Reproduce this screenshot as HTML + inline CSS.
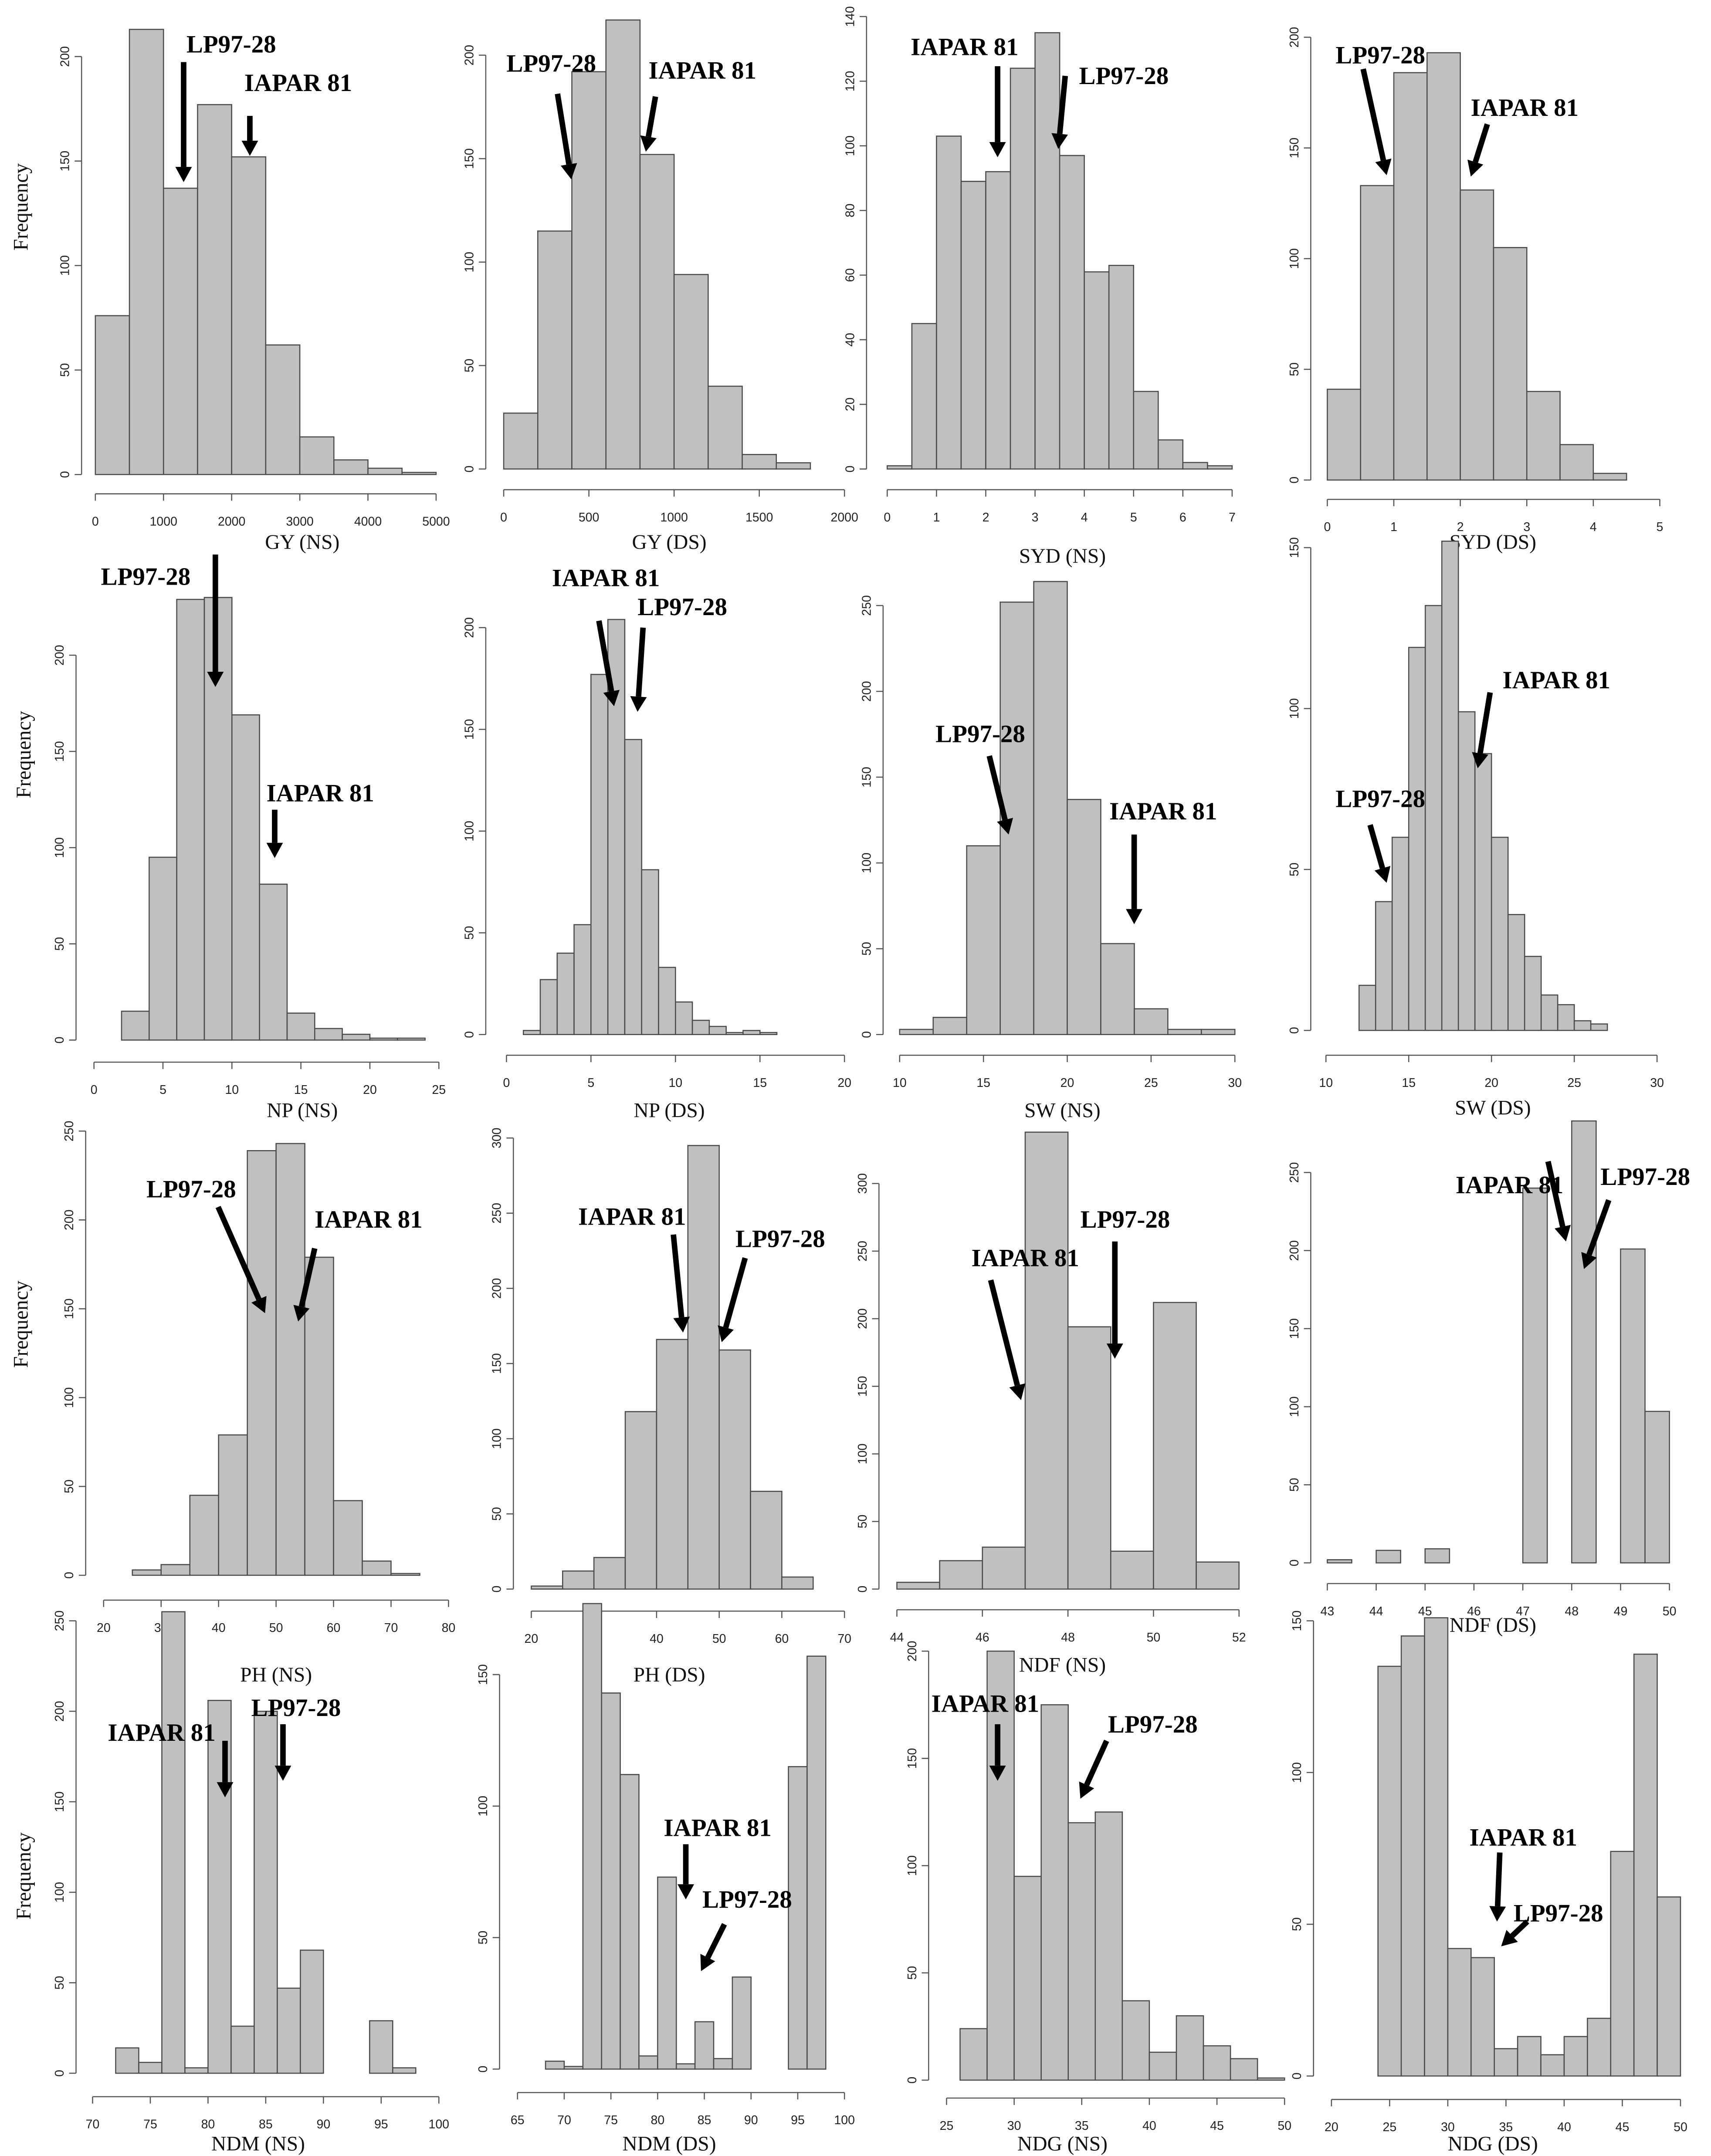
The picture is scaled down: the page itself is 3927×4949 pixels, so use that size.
<!DOCTYPE html>
<html><head><meta charset="utf-8">
<style>
html,body{margin:0;padding:0;background:#fff;}
svg{display:block;}
.tk{font-family:"Liberation Sans",sans-serif;font-size:9px;fill:#222;}
.ttl{font-family:"Liberation Serif",serif;font-size:15px;fill:#111;}
.lbl{font-family:"Liberation Serif",serif;font-size:18px;font-weight:bold;fill:#000;}
</style></head>
<body>
<svg id="fig" xmlns="http://www.w3.org/2000/svg" width="3927" height="4949" viewBox="0 0 1240 1563"></svg>
<script>
// ---- data (counts per bin) ----
const gyNsCounts=[76,213,137,177,152,62,18,7,3,1];
const gyDsCounts=[27,115,192,217,152,94,40,7,3];
const sydNsCounts=[1,45,103,89,92,124,135,97,61,63,24,9,2,1];
const sydDsCounts=[41,133,184,193,131,105,40,16,3];
const npNsCounts=[15,95,229,230,169,81,14,6,3,1,1];
const npDsCounts=[2,27,40,54,177,204,145,81,33,16,7,4,1,2,1];
const swNsCounts=[3,10,110,252,264,137,53,15,3,3];
const swDsCounts=[14,40,60,119,132,152,99,86,60,36,23,11,8,3,2];
const phNsCounts=[3,6,45,79,239,243,179,42,8,1];
const phDsCounts=[2,12,21,118,166,295,159,65,8];
const ndfNsCounts=[5,21,31,338,194,28,212,20];
const ndfDsCounts=[2,0,8,0,9,0,0,0,240,0,283,0,201,97];
const ndmNsCounts=[14,6,255,3,206,26,200,47,68,0,0,29,3];
const ndmDsCounts=[3,1,177,143,112,5,73,2,18,4,35,0,0,115,157];
const ndgNsCounts=[24,200,95,175,120,125,37,13,30,16,10,1];
const ndgDsCounts=[135,145,151,42,39,9,13,7,13,19,74,139,59];
// bin starts and widths
const binStarts=[0,0,0,0,2,1,10,12,25,20,44,43,72,68,26,24];
const binWidths=[500,200,0.5,0.5,2,1,2,1,5,5,1,0.5,2,2,2,2];
// axis tick labels
const xTickSets=[[0,1000,2000,3000,4000,5000],[0,500,1000,1500,2000],[0,1,2,3,4,5,6,7],[0,1,2,3,4,5],
[0,5,10,15,20,25],[0,5,10,15,20],[10,15,20,25,30],[10,15,20,25,30],
[20,30,40,50,60,70,80],[20,30,40,50,60,70],[44,46,48,50,52],[43,44,45,46,47,48,49,50],
[70,75,80,85,90,95,100],[65,70,75,80,85,90,95,100],[25,30,35,40,45,50],[20,25,30,35,40,45,50]];
const yTickSets=[[0,50,100,150,200],[0,50,100,150,200],[0,20,40,60,80,100,120,140],[0,50,100,150,200],
[0,50,100,150,200],[0,50,100,150,200],[0,50,100,150,200,250],[0,50,100,150],
[0,50,100,150,200,250],[0,50,100,150,200,250,300],[0,50,100,150,200,250,300],[0,50,100,150,200,250],
[0,50,100,150,200,250],[0,50,100,150],[0,50,100,150,200],[0,50,100,150]];
const titles=["GY (NS)","GY (DS)","SYD (NS)","SYD (DS)","NP (NS)","NP (DS)","SW (NS)","SW (DS)","PH (NS)","PH (DS)","NDF (NS)","NDF (DS)","NDM (NS)","NDM (DS)","NDG (NS)","NDG (DS)"];
const countSets=[gyNsCounts,gyDsCounts,sydNsCounts,sydDsCounts,npNsCounts,npDsCounts,swNsCounts,swDsCounts,phNsCounts,phDsCounts,ndfNsCounts,ndfDsCounts,ndmNsCounts,ndmDsCounts,ndgNsCounts,ndgDsCounts];

// ---- layout (pixel geometry, display units) ----
const geo=[
[69,316,344,41,59,358,219,398],[365,612,340,40,352,355,485,398],[643,893,340,12,628,355,770,408],[962,1203,348,27,950,362,1082,398],
[68,318,754,475,55,770,219,810],[367,612,750,455,352,765,485,810],[652,895,750,439,640,765,770,810],[961,1201,747,397,950,765,1082,808],
[75,325,1142,820,62,1160,200,1219],[385,612,1152,825,372,1168,485,1219],[650,898,1152,858,637,1167,770,1212],[962,1210,1133,850,950,1148,1082,1183],
[67,318,1503,1175,55,1520,187,1559],[375,612,1500,1214,362,1517,485,1559],[686,931,1508,1197,673,1521,770,1559],[965,1218,1505,1175,952,1522,1082,1559]];
// annotations: [label, labelX, labelY, arrowX1, arrowY1, arrowX2, arrowY2]
const notes=[
[["LP97-28",135,38,133,45,133,132],["IAPAR 81",177,66,181,84,181,113]],
[["LP97-28",367,52,404,68,414,130],["IAPAR 81",470,57,475,70,468,110]],
[["IAPAR 81",660,40,723,48,723,114],["LP97-28",782,61,772,55,767,108]],
[["LP97-28",968,46,988,50,1005,127],["IAPAR 81",1066,84,1078,90,1066,128]],
[["LP97-28",73,424,156,402,156,498],["IAPAR 81",193,581,199,587,199,622]],
[["IAPAR 81",400,425,434,450,445,512],["LP97-28",462,446,466,455,462,516]],
[["LP97-28",678,538,717,548,731,605],["IAPAR 81",804,594,822,605,822,670]],
[["LP97-28",968,585,993,598,1005,640],["IAPAR 81",1089,499,1080,502,1071,557]],
[["LP97-28",106,868,158,875,192,952],["IAPAR 81",228,890,228,905,216,958]],
[["IAPAR 81",419,888,488,895,495,966],["LP97-28",533,904,540,912,523,973]],
[["IAPAR 81",704,918,718,928,740,1015],["LP97-28",783,890,808,900,808,985]],
[["IAPAR 81",1055,865,1122,842,1135,900],["LP97-28",1160,859,1166,870,1148,920]],
[["IAPAR 81",78,1262,163,1262,163,1303],["LP97-28",182,1244,205,1250,205,1291]],
[["IAPAR 81",481,1331,497,1337,497,1377],["LP97-28",509,1383,525,1395,508,1429]],
[["IAPAR 81",675,1241,723,1250,723,1291],["LP97-28",803,1256,802,1262,783,1304]],
[["IAPAR 81",1065,1338,1087,1343,1085,1393],["LP97-28",1097,1393,1107,1393,1088,1411]]];

const NS='http://www.w3.org/2000/svg';
const svg=document.getElementById('fig');
function mk(tag,attrs,parent){const e=document.createElementNS(NS,tag);for(const k in attrs)e.setAttribute(k,attrs[k]);(parent||svg).appendChild(e);return e;}

for(let p=0;p<16;p++){
  const g=mk('g',{});
  
  
  const [xa,xb,y0,yt,yAx,xAy,tx,ty]=geo[p];
  const xt=xTickSets[p], yts=yTickSets[p];
  const xv0=xt[0], xv1=xt[xt.length-1], yv1=yts[yts.length-1];
  const X=v=>xa+(v-xv0)*(xb-xa)/(xv1-xv0);
  const Y=v=>y0-(v)*(y0-yt)/yv1;
  const counts=countSets[p];
  counts.forEach((c,i)=>{
    const l=X(binStarts[p]+i*binWidths[p]), r=X(binStarts[p]+(i+1)*binWidths[p]);
    const b=mk('rect',{x:l,y:Y(c),width:r-l,height:Math.max(0,y0-Y(c)),fill:'#c0c0c0',stroke:'#4a4a4a','stroke-width':0.8},g);
    
    
  });
  const xax=mk('g',{},g);
  
  
  mk('line',{x1:X(xv0),x2:X(xv1),y1:xAy,y2:xAy,stroke:'#555','stroke-width':0.8},xax);
  xt.forEach(v=>{mk('line',{x1:X(v),x2:X(v),y1:xAy,y2:xAy+5,stroke:'#555','stroke-width':0.8},xax);
    const t=mk('text',{x:X(v),y:xAy+23,'text-anchor':'middle',class:'tk'},xax);t.textContent=v;});
  const yax=mk('g',{},g);
  
  
  mk('line',{x1:yAx,x2:yAx,y1:Y(0),y2:Y(yv1),stroke:'#555','stroke-width':0.8},yax);
  yts.forEach(v=>{mk('line',{x1:yAx-5,x2:yAx,y1:Y(v),y2:Y(v),stroke:'#555','stroke-width':0.8},yax);
    const t=mk('text',{x:yAx-9,y:Y(v),'text-anchor':'middle',class:'tk',transform:`rotate(-90 ${yAx-9} ${Y(v)})`},yax);t.textContent=v;});
  const tt=mk('text',{x:tx,y:ty,'text-anchor':'middle',class:'ttl'},g);
  tt.textContent=titles[p];
  
  
  notes[p].forEach(n=>{
    const [lab,lx,ly,x1,y1,x2,y2]=n;
    const t=mk('text',{x:lx,y:ly,class:'lbl'},g);t.textContent=lab;
    
    
    const dx=x2-x1,dy=y2-y1,L=Math.hypot(dx,dy),ux=dx/L,uy=dy/L,hl=11,hw=6;
    const bx=x2-ux*hl,by=y2-uy*hl;
    const a=mk('g',{},g);
    
    
    mk('line',{x1:x1,y1:y1,x2:bx,y2:by,stroke:'#000','stroke-width':4},a);
    mk('polygon',{points:`${x2},${y2} ${bx-uy*hw},${by+ux*hw} ${bx+uy*hw},${by-ux*hw}`,fill:'#000'},a);
  });
}
[150,547,960,1360].forEach((y,i)=>{
  const x=i%2===0?20:22;
  const t=mk('text',{x:x,y:y,'text-anchor':'middle',class:'ttl',transform:`rotate(-90 ${x} ${y})`});
  t.textContent='Frequency';
  
  
});
</script>
</body></html>
